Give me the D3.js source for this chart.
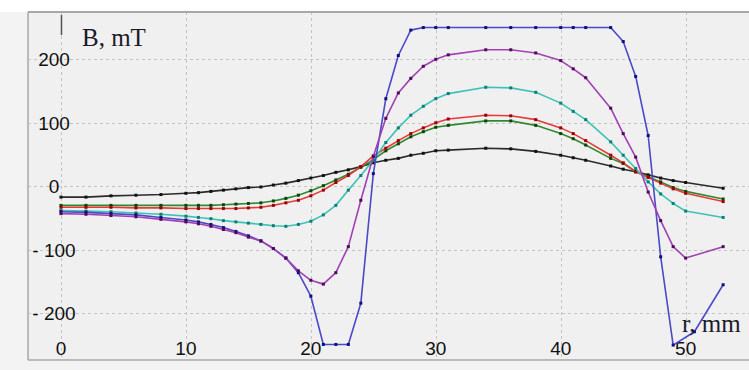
<!DOCTYPE html>
<html><head><meta charset="utf-8">
<script src="https://cdn.jsdelivr.net/npm/d3@7/dist/d3.min.js"></script>
<style>
html,body{margin:0;padding:0;background:#f3f3f3;}
svg{display:block;}
</style></head>
<body>
<svg id="c" width="749" height="370"></svg>
<script>
// ---- data ----
const r = [0,2,4,6,8,10,11,12,13,14,15,16,17,18,19,20,21,22,23,24,25,26,27,28,29,30,31,34,36,38,40,41,42,44,45,46,47,48,49,50,53];
const rBlue = [0,2,4,6,8,10,11,12,13,14,15,16,17,18,19,20,21,22,23,24,25,26,27,28,29,30,31,34,36,38,40,41,42,44,45,46,47,48,49,50.7,53];

const bBlack  = [-17,-17,-15,-14,-13,-11,-10,-8,-6,-4,-2,-1,2,5,9,13,17,22,26,31,37,41,44,49,52,56,57,60,59,55,49,45,41,32,27,23,18,13,9,6,-3];
const bGreen  = [-30,-30,-30,-30,-30,-30,-30,-30,-29,-28,-27,-26,-23,-19,-14,-7,1,10,19,30,42,56,67,78,86,93,96,103,103,96,83,75,65,44,36,23,15,7,-2,-8,-20];
const bRed    = [-33,-33,-33,-34,-34,-35,-35,-35,-35,-35,-34,-33,-30,-26,-22,-15,-6,6,17,31,48,60,72,83,92,100,106,112,111,105,92,83,72,49,37,23,14,5,-4,-11,-24];
const bCyan   = [-38,-39,-40,-42,-44,-47,-49,-51,-54,-56,-58,-60,-62,-63,-60,-55,-45,-30,-6,17,41,69,92,112,126,138,146,156,155,148,131,118,105,70,49,28,7,-12,-27,-39,-49];
const bPurple = [-43,-44,-46,-48,-52,-56,-59,-63,-68,-73,-80,-86,-98,-113,-133,-148,-154,-136,-95,-22,47,107,147,170,189,200,207,215,215,210,198,185,171,123,83,46,-9,-54,-95,-113,-95];
const bBlue   = [-40,-41,-43,-45,-49,-53,-56,-60,-65,-71,-78,-86,-98,-113,-136,-173,-249,-249,-249,-184,20,138,206,246,250,250,250,250,250,250,250,250,250,250,228,173,80,-111,-250,-229,-155];

const xTicks = [0,10,20,30,40,50];
const yTicks = [200,100,0,-100,-200];
const yTickLabels = ["200","100","0","- 100","- 200"];

// ---- layout ----
const svg = d3.select("#c");
const W = 749, H = 370;
const plot = {left:28, top:12, right:749, bottom:360};

const x = d3.scaleLinear().domain([-2.64, 55.07]).range([plot.left, plot.right]);
const y = d3.scaleLinear().domain([-273.5, 274.5]).range([plot.bottom, plot.top]);

svg.append("rect").attr("x",0).attr("y",0).attr("width",W).attr("height",plot.top).attr("fill","#ffffff");
svg.append("rect").attr("x",plot.left).attr("y",plot.top).attr("width",plot.right-plot.left).attr("height",plot.bottom-plot.top).attr("fill","#f0f0f0");

// grid
const grid = svg.append("g");
grid.selectAll("line.v").data(xTicks).enter().append("line")
  .attr("x1",d=>Math.round(x(d))+0.5).attr("x2",d=>Math.round(x(d))+0.5)
  .attr("y1",plot.top).attr("y2",plot.bottom)
  .attr("stroke","#c4c4c4").attr("stroke-width",1).attr("stroke-dasharray","3,3");
grid.selectAll("line.h").data(yTicks).enter().append("line")
  .attr("y1",d=>Math.round(y(d))+0.5).attr("y2",d=>Math.round(y(d))+0.5)
  .attr("x1",plot.left).attr("x2",plot.right)
  .attr("stroke","#c4c4c4").attr("stroke-width",1).attr("stroke-dasharray","3,3");

// border
svg.append("line").attr("x1",plot.left).attr("x2",plot.right).attr("y1",plot.top).attr("y2",plot.top).attr("stroke","#a8a8a8").attr("stroke-width",2);
svg.append("line").attr("x1",plot.left).attr("x2",plot.left).attr("y1",plot.top).attr("y2",plot.bottom).attr("stroke","#a8a8a8").attr("stroke-width",1.5);
svg.append("line").attr("x1",plot.left).attr("x2",plot.right).attr("y1",plot.bottom).attr("y2",plot.bottom).attr("stroke","#a8a8a8").attr("stroke-width",1.5);

// small axis mark at top
svg.append("line").attr("x1",x(0)+0.5).attr("x2",x(0)+0.5).attr("y1",15).attr("y2",35).attr("stroke","#555").attr("stroke-width",1.5);

// tick labels
svg.append("g").selectAll("text").data(yTicks).enter().append("text")
  .attr("x",54).attr("y",d=>y(d)).attr("dy","0.36em")
  .attr("text-anchor","middle")
  .attr("font-family","Liberation Sans, Arial, sans-serif").attr("font-size",19).attr("fill","#111")
  .text((d,i)=>yTickLabels[i]);
svg.append("g").selectAll("text").data(xTicks).enter().append("text")
  .attr("x",d=>x(d)).attr("y",355)
  .attr("text-anchor","middle")
  .attr("font-family","Liberation Sans, Arial, sans-serif").attr("font-size",19).attr("fill","#111")
  .text(d=>d);

// series
const series = [
  {xs:r, ys:bBlack, line:"#2a2a2a", mark:"#111111"},
  {xs:r, ys:bGreen, line:"#2f8a2f", mark:"#0c420c"},
  {xs:r, ys:bRed, line:"#e63a3a", mark:"#990000"},
  {xs:r, ys:bCyan, line:"#3ec2b5", mark:"#0a7f78"},
  {xs:rBlue, ys:bBlue, line:"#4a4ac8", mark:"#10107a"},
  {xs:r, ys:bPurple, line:"#a23fb5", mark:"#4e0a5a"}
];
const lineGen = d3.line().x(d=>x(d[0])).y(d=>y(d[1])).curve(d3.curveLinear);
series.forEach(s=>{
  const pts = s.xs.map((v,i)=>[v, s.ys[i]]);
  const g = svg.append("g");
  g.append("path").attr("d",lineGen(pts)).attr("fill","none").attr("stroke",s.line).attr("stroke-width",1.6).attr("stroke-linejoin","round");
  g.selectAll("rect").data(pts).enter().append("rect")
    .attr("x",d=>x(d[0])-1.5).attr("y",d=>y(d[1])-1.5).attr("width",3).attr("height",3)
    .attr("fill",s.mark);
});

// axis titles
svg.append("text").attr("x",82).attr("y",46)
  .attr("font-family","Liberation Serif, Times New Roman, serif").attr("font-size",25).attr("fill","#1a1a2a")
  .text("B, mT");
svg.append("text").attr("x",682).attr("y",332)
  .attr("font-family","Liberation Serif, Times New Roman, serif").attr("font-size",25).attr("fill","#1a1a2a")
  .text("r, mm");
</script>
</body></html>
